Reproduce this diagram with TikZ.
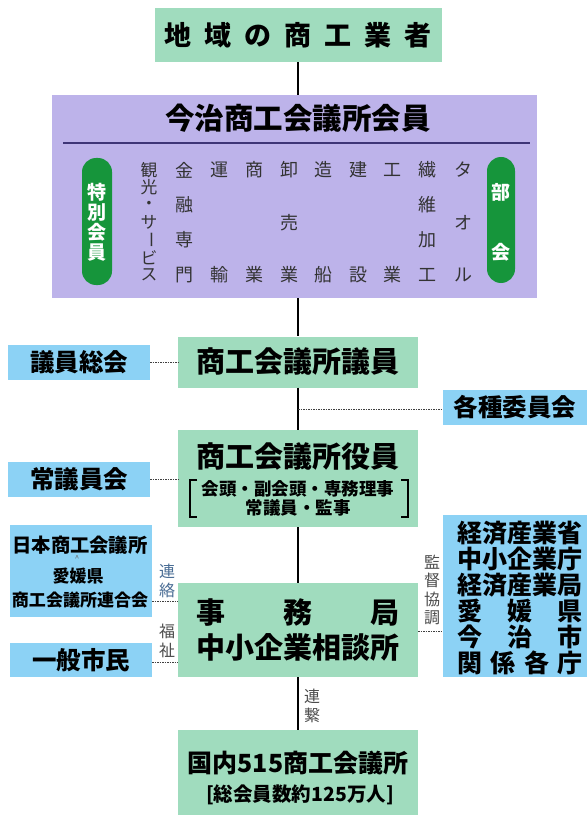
\documentclass[tikz,border=0pt]{standalone}
\usepackage{fontspec}
\setmainfont{Noto Sans CJK JP}
\usepackage{graphicx}
\definecolor{mint}{HTML}{A0DCBE}
\definecolor{sky}{HTML}{8CD2F5}
\definecolor{lav}{HTML}{BDB3EA}
\definecolor{pillg}{HTML}{16953B}
\definecolor{sepc}{HTML}{3E3577}
\definecolor{lblue}{HTML}{4A6D95}
\newcommand\fsz[1]{\fontsize{#1}{#1}\selectfont}
\newcommand\vcol[5][18]{\foreach \c [count=\i] in {#5}{\node[coltext, font=\fsz{#1}] (#2\i) at (#3,{170+(\i-1)*#4}) {\c};}}
\begin{document}
\begin{tikzpicture}[x=1pt,y=-1pt,
  gbox/.style={fill=mint, inner sep=0pt, text=black},
  bbox/.style={fill=sky, inner sep=0pt, text=black},
  link/.style={line width=1.1pt, black},
  dlink/.style={line width=1pt, dash pattern=on 1.6pt off 0.9pt, black!75},
  coltext/.style={inner sep=0pt, text=black!80},
  side/.style={font=\fontsize{16}{18.3}\selectfont, inner sep=0pt, text=black!70, align=center},
  pillbox/.style={fill=pillg, rounded corners=14pt, inner sep=0pt},
  pilltext/.style={font=\fontsize{19}{20}\selectfont\bfseries, text=white, align=center, inner sep=0pt},
  big/.style={font=\fsz{29}\bfseries},
  mid/.style={font=\fsz{24.5}\bfseries}
]
\useasboundingbox[fill=white] (0,0) rectangle (587,818);

% top box
\node[gbox, minimum width=287pt, minimum height=54pt, font=\fsz{27}\bfseries] (top) at (298,35)
  {\makebox[267pt][s]{地\hfill 域\hfill の\hfill 商\hfill 工\hfill 業\hfill 者}};

% purple box
\node[fill=lav, inner sep=0pt, minimum width=485pt, minimum height=203pt] (purple) at (294.5,196.5) {};
\node[font=\fsz{29.5}\bfseries] (ptitle) at (298,118) {今治商工会議所会員};
\draw[sepc, line width=2pt] (63,143) -- (530,143);

\node[pillbox, minimum width=30pt, minimum height=127pt] (tokubetsu) at (97,221.5) {};
\node[pilltext] (tokubetsut) at (97,222) {特\\別\\会\\員};
\node[pillbox, minimum width=28pt, minimum height=126pt] (bukai) at (501,220) {};
\node[pilltext] (bukait) at (501,222) {部\\[40pt]会};

\vcol[16.8]{kanko}{149}{17.5}{観,光,・,サ,{\rotatebox[origin=c]{-90}{ー}},ビ,ス}
\vcol{kinyu}{184}{35}{金,融,専,門}
\vcol{unyu}{219}{105}{運,輸}
\vcol{shogyo}{254}{105}{商,業}
\vcol{oroshi}{289}{52.5}{卸,売,業}
\vcol{zosen}{323}{105}{造,船}
\vcol{kensetsu}{358}{105}{建,設}
\vcol{kogyo}{392}{105}{工,業}
\vcol{seni}{427}{35}{繊,維,加,工}
\vcol{towel}{463}{52.5}{タ,オ,ル}

% center column
\node[gbox, big, minimum width=240pt, minimum height=51pt] (giin) at (298,362) {商工会議所議員};
\node[gbox, minimum width=240pt, minimum height=97pt] (yakuin) at (298,478.5) {};
\node[big] (yakuint) at (298,457) {商工会議所役員};
\node[font=\fsz{17.5}\bfseries, inner sep=0pt] (yk1) at (298,489) {会頭・副会頭・専務理事};
\node[font=\fsz{17.5}\bfseries, inner sep=0pt] (yk2) at (298,508) {常議員・監事};
\draw[line width=1.8pt] (197,480) -- (190,480) -- (190,517) -- (197,517);
\draw[line width=1.8pt] (401,480) -- (408,480) -- (408,517) -- (401,517);

\node[gbox, minimum width=240pt, minimum height=94pt] (jimu) at (298,630) {};
\node[big] (jimu1) at (298,613) {\makebox[204pt][s]{事\hfill 務\hfill 局}};
\node[big] (jimu2) at (298,647) {中小企業相談所};

\node[gbox, minimum width=240pt, minimum height=85pt] (kokunai) at (298,772.5) {};
\node[font=\fsz{25}\bfseries] (kokunai1) at (298,763) {国内515商工会議所};
\node[font=\fsz{19.5}\bfseries] (kokunai2) at (300,795) {[総会員数約125万人]};

% left boxes
\node[bbox, mid, minimum width=142pt, minimum height=35pt] (giinsokai) at (79,362.5) {議員総会};
\node[bbox, mid, minimum width=142pt, minimum height=35pt] (jogiin) at (79,479.5) {常議員会};
\node[bbox, minimum width=142pt, minimum height=92pt] (nihon) at (81,571) {};
\node[font=\fsz{19.3}\bfseries] (nihon1) at (80,545) {日本商工会議所};
\node[font=\fsz{8}, text=black!60] (nihon2) at (77,558) {\^{}};
\node[font=\fsz{17}\bfseries] (nihon3) at (78,576) {愛媛県};
\node[font=\fsz{17}\bfseries] (nihon4) at (80,600) {商工会議所連合会};
\node[bbox, mid, minimum width=142pt, minimum height=34pt] (ippan) at (81,660) {一般市民};

% right boxes
\node[bbox, mid, minimum width=144pt, minimum height=35pt] (kakushu) at (515,407.5) {各種委員会};
\node[bbox, minimum width=144pt, minimum height=162pt] (keizai) at (515,596) {};
\node[font=\fontsize{25}{26}\selectfont\bfseries, align=center, inner sep=0pt] (keizait) at (520,598)
  {経済産業省\\中小企業庁\\経済産業局\\\makebox[125pt][s]{愛\hfill 媛\hfill 県}\\\makebox[125pt][s]{今\hfill 治\hfill 市}\\\makebox[125pt][s]{関\hfill 係\hfill 各\hfill 庁}};

% solid connectors
\draw[link] (top.south) -- (top.south |- purple.north);
\draw[link] (giin.north |- purple.south) -- (giin.north);
\draw[link] (giin.south) -- (yakuin.north);
\draw[link] (yakuin.south) -- (jimu.north);
\draw[link] (jimu.south) -- (kokunai.north);

% dashed connectors
\coordinate (kj) at (298,409);
\draw[dlink] (giinsokai.east) -- (giin.west |- giinsokai.east);
\draw[dlink] (jogiin.east) -- (yakuin.west |- jogiin.east);
\draw[dlink] (kj) -- (kakushu.west |- kj);
\coordinate (rl) at (152,601);
\draw[dlink] (rl) -- (jimu.west |- rl);
\coordinate (fk) at (152,662);
\draw[dlink] (fk) -- (jimu.west |- fk);
\coordinate (kt) at (418,631);
\draw[dlink] (kt) -- (keizai.west |- kt);

% side labels
\node[side, text=lblue] (renraku) at (167,581) {連\\絡};
\node[side] (fukushi) at (167,641) {福\\祉};
\node[side] (kantoku) at (432,590) {監\\督\\協\\調};
\node[side] (renkei) at (312,706) {連\\繋};
\end{tikzpicture}
\end{document}
